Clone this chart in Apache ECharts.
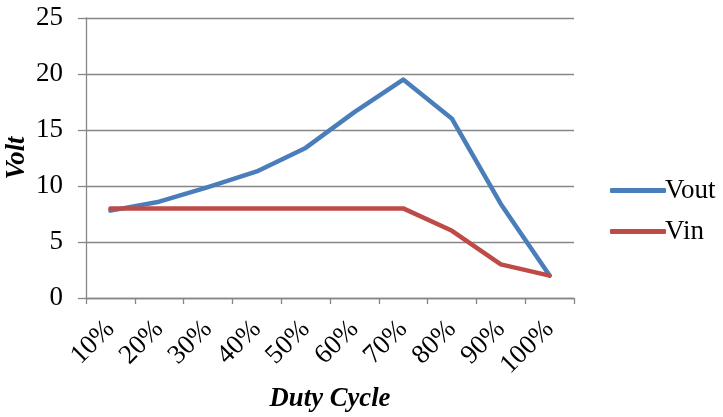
<!DOCTYPE html>
<html>
<head>
<meta charset="utf-8">
<style>
  html, body { margin: 0; padding: 0; background: #fff; }
  #chart { width: 723px; height: 417px; }
</style>
<script src="https://cdn.jsdelivr.net/npm/echarts@6/dist/echarts.min.js"></script>
</head>
<body>
<div id="chart"></div>
<script>
// Duty cycle categories and measured voltages
const dutyCycles = ['10%', '20%', '30%', '40%', '50%', '60%', '70%', '80%', '90%', '100%'];
const vout = [7.8, 8.6, 9.9, 11.3, 13.4, 16.6, 19.5, 16.0, 8.4, 2.0];
const vin = [8, 8, 8, 8, 8, 8, 8, 6, 3, 2];
const voltTicks = [0, 5, 10, 15, 20, 25];

const FONT = '"Liberation Serif", "Times New Roman", serif';
const AXIS_GRAY = '#868686';

const chart = echarts.init(document.getElementById('chart'), null, { renderer: 'canvas' });

chart.setOption({
  animation: false,
  textStyle: { fontFamily: FONT },
  grid: { left: 86, right: 149, top: 18, bottom: 119, containLabel: false, outerBoundsMode: 'none' },
  legend: {
    orient: 'vertical',
    left: 605,
    top: 172,
    itemWidth: 56,
    itemHeight: 5,
    itemGap: 14,
    icon: 'roundRect',
    textStyle: { fontFamily: FONT, fontSize: 27, color: '#000', padding: [0, 0, 0, -6] },
    data: ['Vout', 'Vin']
  },
  xAxis: {
    type: 'category',
    data: dutyCycles,
    boundaryGap: true,
    name: 'Duty Cycle',
    nameLocation: 'middle',
    nameGap: 88,
    nameMoveOverlap: false,
    nameTextStyle: { fontFamily: FONT, fontSize: 26.7, fontWeight: 'bold', fontStyle: 'italic', color: '#000' },
    axisLine: { lineStyle: { color: AXIS_GRAY, width: 1.3 } },
    axisTick: { show: true, alignWithLabel: false, length: 6, lineStyle: { color: AXIS_GRAY, width: 1.3 } },
    axisLabel: { rotate: 45, margin: 27, fontFamily: FONT, fontSize: 27, color: '#000', interval: 0 },
    splitLine: { show: false }
  },
  yAxis: {
    type: 'value',
    min: voltTicks[0],
    max: voltTicks[voltTicks.length - 1],
    interval: 5,
    name: 'Volt',
    nameLocation: 'middle',
    nameGap: 55,
    nameMoveOverlap: false,
    nameRotate: 90,
    nameTextStyle: { fontFamily: FONT, fontSize: 26.7, fontWeight: 'bold', fontStyle: 'italic', color: '#000' },
    axisLine: { show: true, lineStyle: { color: AXIS_GRAY, width: 1.3 } },
    axisTick: { show: true, length: 8, lineStyle: { color: AXIS_GRAY, width: 1.3 } },
    axisLabel: { margin: 23, fontFamily: FONT, fontSize: 27, color: '#000' },
    splitLine: { show: true, lineStyle: { color: AXIS_GRAY, width: 1.3 } }
  },
  series: [
    {
      name: 'Vout',
      type: 'line',
      data: vout,
      symbol: 'none',
      color: '#4A7EBB',
      lineStyle: { width: 4.5, color: '#4A7EBB', cap: 'round', join: 'round' },
      z: 3
    },
    {
      name: 'Vin',
      type: 'line',
      data: vin,
      symbol: 'none',
      color: '#BE4B48',
      lineStyle: { width: 4.5, color: '#BE4B48', cap: 'round', join: 'round' },
      z: 4
    }
  ]
});
</script>
</body>
</html>
